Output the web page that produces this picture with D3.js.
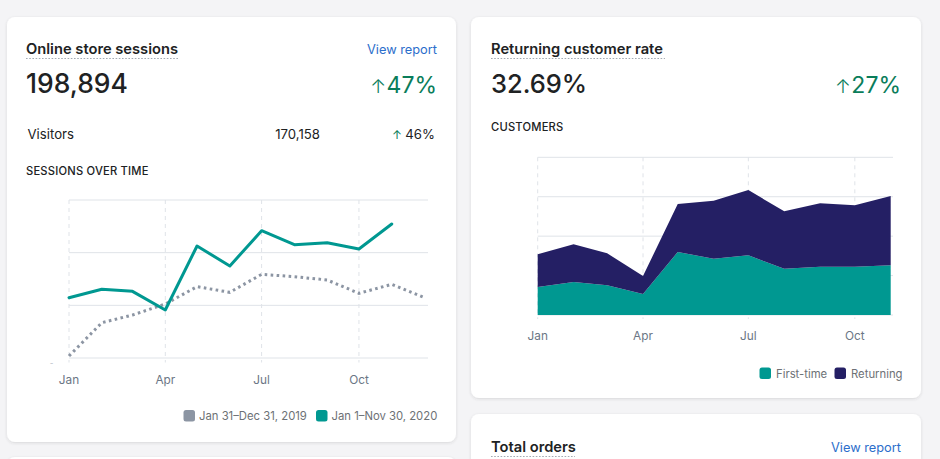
<!DOCTYPE html>
<html>
<head>
<meta charset="utf-8">
<script src="https://cdn.jsdelivr.net/npm/d3@7"></script>
<style>
  html, body { margin: 0; padding: 0; background: #f4f4f6; }
  svg { display: block; font-family: Inter, "Noto Sans", sans-serif; }
</style>
</head>
<body>
<svg id="chart" width="940" height="459"></svg>
<script>
// ---- Data ----
const months = ["Jan","Feb","Mar","Apr","May","Jun","Jul","Aug","Sep","Oct","Nov","Dec"];
const sessions2020 = [11450, 13040, 12660, 9110, 21270, 17470, 24170, 21510, 21890, 20700, 25440];
const sessions2019 = [380, 6700, 8160, 10250, 13540, 12470, 15890, 15440, 14810, 12280, 13990, 11530];
const sessionTicks = [0, 10000, 20000, 30000];
const firstTime = [710, 837, 753, 533, 1598, 1428, 1514, 1174, 1225, 1225, 1260];
const returning = [829, 956, 812, 456, 1217, 1471, 1656, 1456, 1608, 1557, 1758];
const customerTicks = [0, 1000, 2000, 3000, 4000];
const xTickMonths = [0, 3, 6, 9];
const legendSessions = ["Jan 31–Dec 31, 2019", "Jan 1–Nov 30, 2020"];
const legendCustomers = ["First-time", "Returning"];

const C = {
  teal: "#009891", navy: "#241f64", gray: "#8c95a3",
  grid: "#dfe3e8", axisText: "#6b7685", text: "#202223",
  sub: "#6d7175", green: "#0a7d5a", blue: "#2c6ecb"
};

const svg = d3.select("#chart");
const defs = svg.append("defs");
const f = defs.append("filter").attr("id", "shadow").attr("x", "-5%").attr("y", "-5%").attr("width", "110%").attr("height", "110%");
f.append("feDropShadow").attr("dx", 0).attr("dy", 1).attr("stdDeviation", 1.5).attr("flood-color", "#3f3f44").attr("flood-opacity", 0.16);

// ---- Cards ----
const cards = [
  {x: 7, y: 17, w: 449, h: 425},
  {x: 471, y: 17, w: 450, h: 381},
  {x: 471, y: 414, w: 450, h: 120},
  {x: 7, y: 457, w: 449, h: 120}
];
svg.selectAll("rect.card").data(cards).join("rect").attr("class", "card")
  .attr("x", d => d.x).attr("y", d => d.y).attr("width", d => d.w).attr("height", d => d.h)
  .attr("rx", 8).attr("fill", "#fff").attr("filter", "url(#shadow)");

function title(x, y, txt, width) {
  svg.append("text").attr("x", x).attr("y", y).attr("font-size", 14.7).attr("font-weight", 600)
    .attr("fill", C.text).text(txt);
  svg.append("line").attr("x1", x).attr("x2", x + width).attr("y1", y + 4.5).attr("y2", y + 4.5)
    .attr("stroke", "#a4abb3").attr("stroke-width", 1.2).attr("stroke-dasharray", "1.6 1.6");
}
function link(x, y, txt) {
  svg.append("text").attr("x", x).attr("y", y).attr("text-anchor", "end").attr("font-size", 12.8)
    .attr("fill", C.blue).text(txt);
}
function bigNum(x, y, txt, size) {
  svg.append("text").attr("x", x).attr("y", y).attr("font-size", size).attr("font-weight", 500)
    .attr("fill", C.text).text(txt);
}
function delta(x, y, txt) {
  const t = svg.append("text").attr("x", x).attr("y", y).attr("text-anchor", "end").attr("fill", C.green);
  t.append("tspan").attr("font-size", 19).attr("font-weight", 300).text("↑");
  t.append("tspan").attr("font-size", 23).attr("dx", 0.5).text(txt);
}
function label(x, y, txt) {
  svg.append("text").attr("x", x).attr("y", y).attr("font-size", 11.2).attr("font-weight", 500)
    .attr("letter-spacing", 0.2).attr("fill", C.text).text(txt);
}

// Left card header
title(26, 54, "Online store sessions", 153);
link(437, 54, "View report");
bigNum(26, 92.5, "198,894", 26.5);
delta(437, 92.5, "47%");
svg.append("text").attr("x", 27.5).attr("y", 139).attr("font-size", 13.2).attr("fill", C.text).text("Visitors");
svg.append("text").attr("x", 320).attr("y", 139).attr("text-anchor", "end").attr("font-size", 13.2).attr("fill", C.text).text("170,158");
const vt = svg.append("text").attr("x", 435).attr("y", 139).attr("text-anchor", "end").attr("font-size", 13.2).attr("fill", C.text);
vt.append("tspan").attr("fill", C.green).attr("font-size", 12).text("↑ ");
vt.append("tspan").text("46%");
label(26, 175, "SESSIONS OVER TIME");

// Right card header
title(491, 54, "Returning customer rate", 174);
bigNum(491, 92.5, "32.69%", 25.5);
delta(901, 92.5, "27%");
label(491, 131, "CUSTOMERS");

// Third card header
title(491, 452, "Total orders", 84);
link(901, 452, "View report");

// ---- Left line chart ----
const dates = months.map((m, i) => new Date(2020, i, 1));
const xL = d3.scaleTime().domain([dates[0], dates[11]]).range([69, 423.5]);
const yL = d3.scaleLinear().domain([0, 30000]).range([358, 200]);
const gL = svg.append("g");
gL.selectAll("line.h").data(sessionTicks).join("line")
  .attr("x1", xL.range()[0]).attr("x2", 428).attr("y1", d => yL(d)).attr("y2", d => yL(d))
  .attr("stroke", C.grid).attr("stroke-width", 1);
gL.selectAll("line.v").data(xTickMonths).join("line")
  .attr("x1", d => xL(dates[d])).attr("x2", d => xL(dates[d]))
  .attr("y1", yL(30000)).attr("y2", yL(0) + 4.5)
  .attr("stroke", C.grid).attr("stroke-width", 1).attr("stroke-dasharray", "4 4");
gL.selectAll("text.xl").data(xTickMonths).join("text")
  .attr("x", d => xL(dates[d])).attr("y", 383.5).attr("text-anchor", "middle")
  .attr("font-size", 11.8).attr("fill", C.axisText).text(d => months[d]);
gL.append("text").attr("x", 51.5).attr("y", 365.5).attr("text-anchor", "middle")
  .attr("font-size", 8).attr("fill", "#b6bcc4").text("-");

const lineGen = d3.line().x((d, i) => xL(dates[i])).y(d => yL(d));
gL.append("path").datum(sessions2019).attr("d", lineGen).attr("fill", "none")
  .attr("stroke", C.gray).attr("stroke-width", 3).attr("stroke-dasharray", "2.6 3.4");
gL.append("path").datum(sessions2020).attr("d", lineGen).attr("fill", "none")
  .attr("stroke", C.teal).attr("stroke-width", 3).attr("stroke-linejoin", "round").attr("stroke-linecap", "round");

// Left legend
const legL = svg.append("g");
const legLItems = [{t: legendSessions[0], c: C.gray, x: 183.5}, {t: legendSessions[1], c: C.teal, x: 316}];
legL.selectAll("rect").data(legLItems).join("rect")
  .attr("x", d => d.x).attr("y", 410).attr("width", 11.5).attr("height", 11.5).attr("rx", 2.5).attr("fill", d => d.c);
legL.selectAll("text").data(legLItems).join("text")
  .attr("x", d => d.x + 15.5).attr("y", 420).attr("font-size", 11.3).attr("fill", C.sub).text(d => d.t);

// ---- Right stacked area chart ----
const cDates = firstTime.map((v, i) => new Date(2020, i, 1));
const xR = d3.scaleTime().domain([cDates[0], cDates[cDates.length - 1]]).range([537.7, 890.7]);
const yR = d3.scaleLinear().domain([0, 4000]).range([315, 157.3]);
const gR = svg.append("g");
gR.selectAll("line.h").data(customerTicks).join("line")
  .attr("x1", xR.range()[0]).attr("x2", 893).attr("y1", d => yR(d)).attr("y2", d => yR(d))
  .attr("stroke", C.grid).attr("stroke-width", 1);
gR.selectAll("line.v").data(xTickMonths).join("line")
  .attr("x1", d => xR(cDates[d])).attr("x2", d => xR(cDates[d]))
  .attr("y1", yR(4000)).attr("y2", yR(0) + 4)
  .attr("stroke", C.grid).attr("stroke-width", 1).attr("stroke-dasharray", "4 4");

const rows = firstTime.map((v, i) => ({date: cDates[i], first: v, ret: returning[i]}));
const stack = d3.stack().keys(["first", "ret"])(rows);
const areaGen = d3.area().x(d => xR(d.data.date)).y0(d => yR(d[0])).y1(d => yR(d[1]));
gR.selectAll("path.area").data(stack).join("path")
  .attr("d", areaGen).attr("fill", (d, i) => i === 0 ? C.teal : C.navy);

gR.selectAll("text.xl").data(xTickMonths).join("text")
  .attr("x", d => xR(cDates[d])).attr("y", 340).attr("text-anchor", "middle")
  .attr("font-size", 11.8).attr("fill", C.axisText).text(d => months[d]);

// Right legend
const legR = svg.append("g");
const legRItems = [{t: legendCustomers[0], c: C.teal, x: 759.5}, {t: legendCustomers[1], c: C.navy, x: 834.5}];
legR.selectAll("rect").data(legRItems).join("rect")
  .attr("x", d => d.x).attr("y", 367.5).attr("width", 11.5).attr("height", 11.5).attr("rx", 2.5).attr("fill", d => d.c);
legR.selectAll("text").data(legRItems).join("text")
  .attr("x", d => d.x + 16.5).attr("y", 377.5).attr("font-size", 11.3).attr("fill", C.sub).text(d => d.t);
</script>
</body>
</html>
